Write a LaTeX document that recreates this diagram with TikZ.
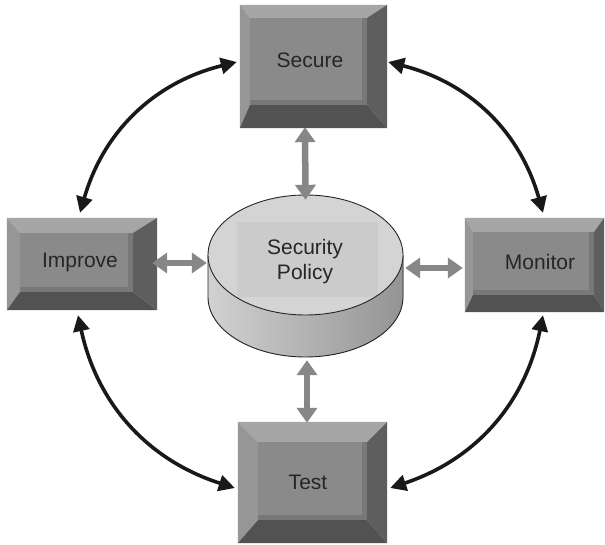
\documentclass[tikz,border=0pt]{standalone}
\usepackage{fontspec}
\setmainfont{Liberation Sans}
\usetikzlibrary{arrows.meta,calc,backgrounds}

\definecolor{bvface}{gray}{0.54}
\definecolor{bvshade}{gray}{0.47}
\definecolor{bvtop}{gray}{0.65}
\definecolor{bvleft}{gray}{0.59}
\definecolor{bvright}{gray}{0.37}
\definecolor{bvbottom}{gray}{0.32}
\definecolor{cyltop}{gray}{0.83}
\definecolor{cylrect}{gray}{0.795}
\definecolor{cylsideL}{gray}{0.82}
\definecolor{cylsideR}{gray}{0.58}
\definecolor{linkgray}{gray}{0.53}
\definecolor{cycleblack}{gray}{0.10}

% bevelled button behind a named rectangle node:
% #1 node, #2 left, #3 top, #4 right, #5 bottom bevel widths
\newcommand\bevelbox[5]{%
  \begin{scope}[on background layer]
    \coordinate (o1) at (#1.north west);
    \coordinate (o2) at (#1.north east);
    \coordinate (o3) at (#1.south east);
    \coordinate (o4) at (#1.south west);
    \coordinate (i1) at ($(#1.north west)+(#2,-#3)$);
    \coordinate (i2) at ($(#1.north east)+(-#4,-#3)$);
    \coordinate (i3) at ($(#1.south east)+(-#4,#5)$);
    \coordinate (i4) at ($(#1.south west)+(#2,#5)$);
    \fill[bvtop] (o1)--(o2)--(i2)--(i1)--cycle;
    \fill[bvleft] (o1)--(i1)--(i4)--(o4)--cycle;
    \fill[bvright] (o2)--(o3)--(i3)--(i2)--cycle;
    \fill[bvbottom] (o4)--(i4)--(i3)--(o3)--cycle;
    \fill[bvshade] (i1)--(i2)--(i3)--(i4)--cycle;
    \fill[bvface] (i1)--($(i2)+(-5,0)$)--($(i3)+(-5,5)$)--($(i4)+(0,5)$)--cycle;
  \end{scope}}

\begin{document}
\begin{tikzpicture}[x=1pt,y=1pt,
  boxshape/.style={rectangle, inner sep=0pt},
  lbl/.style={font=\fontsize{21}{25}\selectfont, text=black!85, align=center},
  cyclearrow/.style={line width=3.6pt, draw=cycleblack,
    {Triangle[length=16pt,width=16pt]}-{Triangle[length=16pt,width=16pt]}},
  linkarrow/.style={line width=6.5pt, draw=linkgray,
    {Triangle[length=15pt,width=20pt]}-{Triangle[length=15pt,width=20pt]}},
]
\begin{scope}[on background layer]
  \fill[white] (0,0) rectangle (605,544);
\end{scope}
\useasboundingbox (0,0) rectangle (605,544);

% the four process boxes
\node[boxshape, minimum width=147pt, minimum height=123pt] (secure)  at (313.5,477.5) {};
\node[boxshape, minimum width=139pt, minimum height=94pt]  (monitor) at (534.5,279) {};
\node[boxshape, minimum width=150pt, minimum height=92pt]  (improve) at (82,280) {};
\node[boxshape, minimum width=149pt, minimum height=121pt] (test)    at (312.5,61.5) {};
\node[boxshape, minimum width=195pt, minimum height=162pt] (policy)  at (305.5,268) {};

\bevelbox{secure}{10}{13}{20}{23}
\bevelbox{monitor}{8}{14}{10}{17}
\bevelbox{improve}{13}{15}{24}{18}
\bevelbox{test}{20}{20}{20}{23}

\node[lbl] (secureT)  at (310,484) {Secure};
\node[lbl] (monitorT) at (540,282) {Monitor};
\node[lbl] (improveT) at (80,282)  {Improve};
\node[lbl] (testT)    at (308,62)  {Test};

% policy cylinder
\fill[left color=cylsideL, right color=cylsideR]
  (208,289) -- (208,247) arc[start angle=180, end angle=360, x radius=97.5, y radius=60]
  -- (403,289) arc[start angle=0, end angle=-180, x radius=97.5, y radius=60] -- cycle;
\draw[line width=0.9pt, black!85]
  (208,289) -- (208,247) arc[start angle=180, end angle=360, x radius=97.5, y radius=60]
  -- (403,289);
\begin{scope}
  \clip (305.5,289) ellipse[x radius=97.5, y radius=60];
  \fill[cyltop] (305.5,289) ellipse[x radius=97.5, y radius=60];
  \fill[cylrect] (237,247) rectangle (378,322);
\end{scope}
\draw[line width=0.9pt, black!85] (305.5,289) ellipse[x radius=97.5, y radius=60];
\node[lbl] (policyT) at (305,282) {Security\\Policy};

% links between the policy and each box
\draw[linkarrow] ($(secure.south)+(-8.5,1)$) -- ($(policy.north)+(0,-5)$);
\draw[linkarrow] ($(policy.south)+(1.5,-3)$) -- ($(test.north)+(-5.5,-1)$);
\draw[linkarrow] ($(improve.east)+(-5,1)$) -- ($(policy.west)+(-1,13)$);
\draw[linkarrow] ($(policy.east)+(2,8)$) -- ($(monitor.west)+(-2,-3)$);

% the improvement cycle
\draw[cyclearrow] ($(secure.east)+(1,4.5)$) to[bend left=30] ($(monitor.north)+(8.5,5)$);
\draw[cyclearrow] ($(secure.west)+(-3,4.5)$) to[bend right=30] ($(improve.north)+(-2,5)$);
\draw[cyclearrow] ($(improve.south)+(-4,-5)$) to[bend right=30] ($(test.west)+(-3,-5.5)$);
\draw[cyclearrow] ($(test.east)+(3,-5.5)$) to[bend right=30] ($(monitor.south)+(8.5,-3)$);
\end{tikzpicture}
\end{document}
